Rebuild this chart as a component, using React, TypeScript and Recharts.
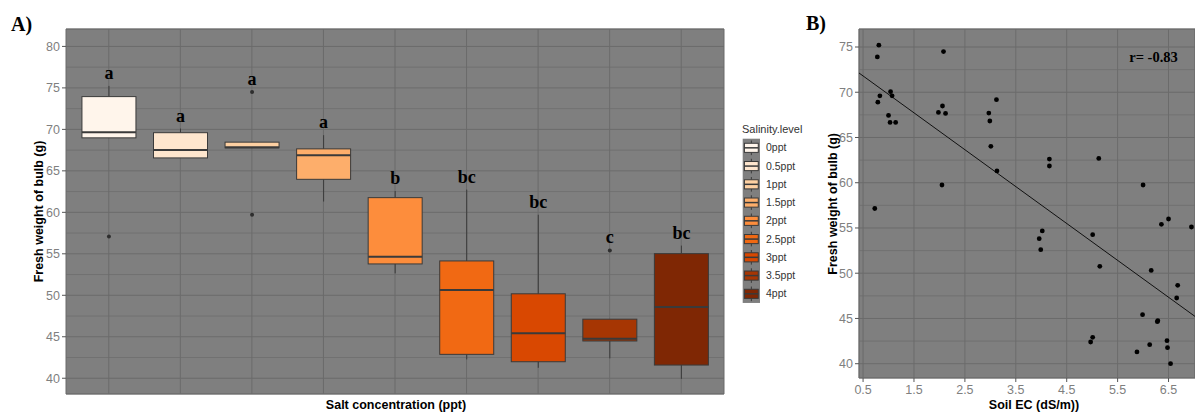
import React from 'react';
import {
  ComposedChart,
  Bar,
  XAxis,
  YAxis,
  CartesianGrid,
  ScatterChart,
  Scatter,
  ReferenceLine,
} from 'recharts';

// ---- Panel A: fresh bulb weight by salinity level (box plot summaries) ----
const levels = ['0ppt', '0.5ppt', '1ppt', '1.5ppt', '2ppt', '2.5ppt', '3ppt', '3.5ppt', '4ppt'];
const levelFills = ['#FFF5EB', '#FEE6CE', '#FDD0A2', '#FDAE6B', '#FD8D3C', '#F16913', '#D94801', '#A63603', '#7F2704'];
const whiskerLow = [68.98, 66.56, 67.77, 61.3, 52.64, 42.27, 41.26, 42.4, 39.92];
const quartile1 = [68.98, 66.56, 67.77, 63.98, 53.78, 42.88, 41.99, 44.49, 41.59];
const medians = [69.64, 67.5, 67.86, 66.89, 54.66, 50.63, 45.42, 44.77, 48.6];
const quartile3 = [73.95, 69.6, 68.46, 67.65, 61.77, 54.14, 50.18, 47.12, 55.02];
const whiskerHigh = [75.24, 70.1, 68.46, 69.3, 62.57, 62.74, 59.71, 47.12, 55.99];
const outlierValues: number[][] = [[57.1], [], [74.5, 59.7], [], [], [], [], [55.4], []];
const groupLetters = ['a', 'a', 'a', 'a', 'b', 'bc', 'bc', 'c', 'bc'];
const weightTicks = [40, 45, 50, 55, 60, 65, 70, 75, 80];
const weightMinorTicks = [42.5, 47.5, 52.5, 57.5, 62.5, 67.5, 72.5, 77.5];

// ---- Panel B: fresh bulb weight against soil EC ----
const soilEC = [
  0.81, 0.78, 0.83, 0.79, 1.04, 1.07, 1.0, 1.03, 1.14, 2.08, 2.06, 1.98, 2.12, 2.05, 2.97,
  2.99, 3.12, 3.01, 3.13, 4.16, 4.16, 5.13, 6.0, 0.73, 3.96, 4.02, 3.99, 5.01, 5.15, 4.97,
  5.01, 6.36, 6.5, 6.95, 6.16, 6.68, 6.66, 5.99, 6.29, 6.28, 6.47, 6.13, 6.48, 5.88, 6.54,
];
const bulbWeight = [
  75.2, 73.9, 69.6, 68.9, 70.06, 69.6, 67.44, 66.67, 66.67, 74.5, 68.48, 67.77, 67.66, 59.75, 67.7,
  66.82, 69.18, 64.02, 61.3, 62.62, 61.85, 62.69, 59.75, 57.15, 53.82, 54.67, 52.6, 54.26, 50.76, 42.4,
  42.91, 55.4, 55.99, 55.11, 50.31, 48.66, 47.26, 45.42, 44.76, 44.65, 42.55, 42.1, 41.77, 41.3, 40.0,
];
const ecTicks = [0.5, 1.5, 2.5, 3.5, 4.5, 5.5, 6.5];
const ecMinorTicks = [1, 2, 3, 4, 5, 6, 7];
const scatterWeightTicks = [40, 45, 50, 55, 60, 65, 70, 75];
const scatterWeightMinorTicks = [42.5, 47.5, 52.5, 57.5, 62.5, 67.5, 72.5];
const fitIntercept = 73.84;
const fitSlope = -4.076;
const correlationText = 'r= -0.83';

const ecDomain: [number, number] = [0.42, 7.02];
const scatterWeightDomain: [number, number] = [38.42, 76.99];
const boxWeightDomain: [number, number] = [38.1, 82.1];

const boxRows = levels.map((level, i) => ({
  level,
  range: [whiskerLow[i], whiskerHigh[i]],
  lo: whiskerLow[i],
  q1: quartile1[i],
  median: medians[i],
  q3: quartile3[i],
  hi: whiskerHigh[i],
  outliers: outlierValues[i],
  letter: groupLetters[i],
  fill: levelFills[i],
}));

const scatterRows = soilEC.map((ec, i) => ({ ec, weight: bulbWeight[i] }));

const PANEL_BG = '#7f7f7f';
const GRID = '#6b6b6b';
const OUTLINE = '#3a3a3a';
const TICK_TEXT = '#7f7f7f';
const SANS = '"Liberation Sans", Arial, sans-serif';
const SERIF = '"Liberation Serif", "Times New Roman", serif';

const tickStyle = { fill: TICK_TEXT, fontSize: 12.5, fontFamily: SANS };

// Category ticks are kept (they place the vertical grid lines) but draw no text
const EmptyTick = () => <g />;

// Draws one complete box (whiskers, box, median, outliers, letter group)
const BoxGlyph = (props: any) => {
  const { x, y, width, height, payload } = props;
  if (!payload) return null;
  const top = Math.min(y, y + height);
  const bottom = Math.max(y, y + height);
  const { lo, hi, q1, q3, median, outliers, letter, fill } = payload;
  const py = (v: number) => (hi === lo ? top : top + ((hi - v) / (hi - lo)) * (bottom - top));
  const cx = x + width / 2;
  const highest = Math.min(py(hi), ...outliers.map((v: number) => py(v)));
  return (
    <g>
      <line x1={cx} x2={cx} y1={py(hi)} y2={py(q3)} stroke={OUTLINE} strokeWidth={1} />
      <line x1={cx} x2={cx} y1={py(q1)} y2={py(lo)} stroke={OUTLINE} strokeWidth={1} />
      <rect x={x} y={py(q3)} width={width} height={py(q1) - py(q3)} fill={fill} stroke={OUTLINE} strokeWidth={1} />
      <line x1={x} x2={x + width} y1={py(median)} y2={py(median)} stroke={OUTLINE} strokeWidth={2} />
      {outliers.map((v: number, k: number) => (
        <circle key={k} cx={cx} cy={py(v)} r={2} fill="#2e2e2e" />
      ))}
      <text
        x={cx}
        y={highest - 7}
        textAnchor="middle"
        fontFamily={SERIF}
        fontWeight="bold"
        fontSize={18}
        fill="#000"
      >
        {letter}
      </text>
    </g>
  );
};

const ScatterDot = (props: any) => <circle cx={props.cx} cy={props.cy} r={2.4} fill="#000" />;

// Legend for the salinity levels, drawn like ggplot's boxplot keys
const SalinityLegend = () => {
  const left = 742.7;
  const top = 138.7;
  const keyW = 17.3;
  const keyH = 18.25;
  return (
    <g>
      <text x={742} y={133} fontFamily={SANS} fontSize={11} fill="#333">
        Salinity.level
      </text>
      <rect x={left} y={top} width={keyW} height={keyH * levels.length} fill={PANEL_BG} />
      {levels.map((lvl, i) => {
        const ky = top + i * keyH;
        const cx = left + keyW / 2;
        return (
          <g key={lvl}>
            <line x1={cx} x2={cx} y1={ky + keyH * 0.1} y2={ky + keyH * 0.25} stroke={OUTLINE} strokeWidth={1} />
            <line x1={cx} x2={cx} y1={ky + keyH * 0.75} y2={ky + keyH * 0.9} stroke={OUTLINE} strokeWidth={1} />
            <rect
              x={left + keyW * 0.1}
              y={ky + keyH * 0.25}
              width={keyW * 0.8}
              height={keyH * 0.5}
              fill={levelFills[i]}
              stroke={OUTLINE}
              strokeWidth={1}
            />
            <line
              x1={left + keyW * 0.1}
              x2={left + keyW * 0.9}
              y1={ky + keyH / 2}
              y2={ky + keyH / 2}
              stroke={OUTLINE}
              strokeWidth={1.5}
            />
            <text x={766} y={ky + keyH / 2 + 3.5} fontFamily={SANS} fontSize={10.5} fill="#333">
              {lvl}
            </text>
          </g>
        );
      })}
    </g>
  );
};

export default function App() {
  return (
    <div
      style={{
        position: 'fixed',
        left: 0,
        top: 0,
        width: 1195,
        height: 412,
        overflow: 'hidden',
        background: '#fff',
      }}
    >
      <div style={{ position: 'absolute', left: 0, top: 0 }}>
        <ComposedChart
          width={790}
          height={412}
          data={boxRows}
          margin={{ top: 29, right: 66, bottom: 18, left: 26 }}
          barCategoryGap="12.5%"
        >
          <CartesianGrid
            yAxisId="minor"
            vertical={false}
            stroke={GRID}
            strokeWidth={0.7}
            fill={PANEL_BG}
            fillOpacity={1}
          />
          <CartesianGrid horizontal vertical stroke={GRID} strokeWidth={1} />
          <XAxis
            dataKey="level"
            type="category"
            padding={{ left: 7, right: 7 }}
            height={0}
            tick={EmptyTick}
            tickLine={false}
            axisLine={false}
            interval={0}
          />
          <YAxis
            type="number"
            domain={boxWeightDomain}
            ticks={weightTicks}
            allowDataOverflow
            width={40}
            axisLine={false}
            tickLine={{ stroke: '#555' }}
            tickSize={4}
            tickMargin={2}
            tick={tickStyle}
          />
          <YAxis
            yAxisId="minor"
            type="number"
            domain={boxWeightDomain}
            ticks={weightMinorTicks}
            allowDataOverflow
            hide
          />
          <Bar dataKey="range" shape={BoxGlyph} isAnimationActive={false} />
        </ComposedChart>
      </div>

      <div style={{ position: 'absolute', left: 790, top: 0 }}>
        <ScatterChart
          width={405}
          height={412}
          margin={{ top: 29, right: 0, bottom: 20, left: 29 }}
        >
          <CartesianGrid
            xAxisId="minor"
            yAxisId="minor"
            stroke={GRID}
            strokeWidth={0.7}
            fill={PANEL_BG}
            fillOpacity={1}
          />
          <CartesianGrid stroke={GRID} strokeWidth={1} />
          <XAxis
            dataKey="ec"
            type="number"
            domain={ecDomain}
            ticks={ecTicks}
            allowDataOverflow
            height={14}
            axisLine={false}
            tickLine={{ stroke: '#555' }}
            tickSize={4}
            tickMargin={3}
            tick={tickStyle}
          />
          <XAxis
            xAxisId="minor"
            type="number"
            domain={ecDomain}
            ticks={ecMinorTicks}
            allowDataOverflow
            hide
          />
          <YAxis
            dataKey="weight"
            type="number"
            domain={scatterWeightDomain}
            ticks={scatterWeightTicks}
            allowDataOverflow
            width={40}
            axisLine={false}
            tickLine={{ stroke: '#555' }}
            tickSize={4}
            tickMargin={2}
            tick={tickStyle}
          />
          <YAxis
            yAxisId="minor"
            type="number"
            domain={scatterWeightDomain}
            ticks={scatterWeightMinorTicks}
            allowDataOverflow
            hide
          />
          <ReferenceLine
            segment={[
              { x: ecDomain[0], y: fitIntercept + fitSlope * ecDomain[0] },
              { x: ecDomain[1], y: fitIntercept + fitSlope * ecDomain[1] },
            ]}
            stroke="#111"
            strokeWidth={1}
          />
          <Scatter data={scatterRows} shape={ScatterDot} isAnimationActive={false} />
        </ScatterChart>
      </div>

      <svg
        width={1195}
        height={412}
        style={{ position: 'absolute', left: 0, top: 0, pointerEvents: 'none' }}
      >
        <text x={11} y={31} fontFamily={SERIF} fontWeight="bold" fontSize={20} fill="#000">
          A)
        </text>
        <text x={806} y={30} fontFamily={SERIF} fontWeight="bold" fontSize={20} fill="#000">
          B)
        </text>
        <text
          transform="translate(42.5, 211.5) rotate(-90)"
          textAnchor="middle"
          fontFamily={SANS}
          fontWeight="bold"
          fontSize={12.5}
          fill="#000"
        >
          Fresh weight of bulb (g)
        </text>
        <text x={396} y={409} textAnchor="middle" fontFamily={SANS} fontWeight="bold" fontSize={12.5} fill="#000">
          Salt concentration (ppt)
        </text>
        <text
          transform="translate(836.5, 203.8) rotate(-90)"
          textAnchor="middle"
          fontFamily={SANS}
          fontWeight="bold"
          fontSize={12.5}
          fill="#000"
        >
          Fresh weight of bulb (g)
        </text>
        <text x={1034} y={409} textAnchor="middle" fontFamily={SANS} fontWeight="bold" fontSize={12.5} fill="#000">
          Soil EC (dS/m))
        </text>
        <text x={1153.5} y={62} textAnchor="middle" fontFamily={SERIF} fontWeight="bold" fontSize={14.5} fill="#000">
          {correlationText}
        </text>
        <SalinityLegend />
      </svg>
    </div>
  );
}
